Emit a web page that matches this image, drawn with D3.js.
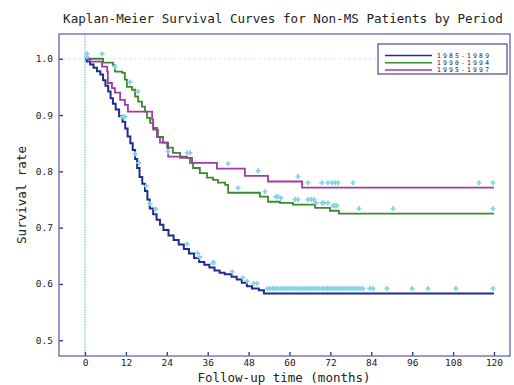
<!DOCTYPE html>
<html>
<head>
<meta charset="utf-8">
<script src="https://cdn.jsdelivr.net/npm/d3@7"></script>
<style>
  body { margin: 0; background: #fff; }
  svg text { font-family: "DejaVu Sans Mono", "Liberation Mono", monospace; fill: #222; }
</style>
</head>
<body>
<svg id="chart" width="514" height="385"></svg>
<script>
// 축 눈금
const monthTicks = [0, 12, 24, 36, 48, 60, 72, 84, 96, 108, 120];
const rateTicks = [0.5, 0.6, 0.7, 0.8, 0.9, 1.0];
const periods = ["1985-1989", "1990-1994", "1995-1997"];
const colors = ["#1f2e8c", "#3b8a2e", "#a23aa6"];

// 생존 곡선 단계 [시간, 생존율]
const steps8589 = [
  [0, 1.0], [0.5, 0.995], [1.5, 0.990], [2.5, 0.984], [3.5, 0.978], [4.5, 0.972],
  [5.3, 0.962], [6.0, 0.952], [6.8, 0.942], [7.5, 0.930], [8.2, 0.920], [9.0, 0.910],
  [10.0, 0.898], [11.0, 0.888], [11.8, 0.876], [12.5, 0.862], [13.3, 0.850], [14.0, 0.838],
  [14.7, 0.822], [15.3, 0.806], [16.0, 0.790], [16.8, 0.778], [17.6, 0.765], [18.3, 0.750],
  [19.0, 0.734], [20.0, 0.724], [21.0, 0.714], [22.0, 0.705], [23.0, 0.696], [24.5, 0.686],
  [26.0, 0.678], [27.5, 0.670], [29.0, 0.662], [30.5, 0.654], [32.0, 0.646], [33.5, 0.639],
  [35.0, 0.634], [36.5, 0.629], [38.0, 0.624], [39.5, 0.620], [41.0, 0.617], [43.0, 0.613],
  [44.5, 0.608], [46.0, 0.602], [47.5, 0.596], [49.0, 0.592], [51.0, 0.589], [52.5, 0.583],
  [120, 0.583]
];
const steps9094 = [
  [0, 1.0], [5.3, 0.993], [8.2, 0.989], [8.8, 0.977], [10.9, 0.975], [11.7, 0.963],
  [12.3, 0.950], [13.8, 0.945], [14.7, 0.933], [15.6, 0.924], [16.7, 0.915], [17.6, 0.906],
  [18.2, 0.895], [19.1, 0.886], [20.0, 0.874], [21.4, 0.861], [22.9, 0.851], [24.4, 0.842],
  [25.8, 0.833], [27.9, 0.824], [30.8, 0.815], [31.7, 0.806], [33.7, 0.797], [35.8, 0.789],
  [37.6, 0.785], [39.0, 0.780], [41.1, 0.776], [42.0, 0.762], [51.3, 0.755], [53.7, 0.746],
  [57.2, 0.744], [61.0, 0.741], [67.5, 0.735], [71.9, 0.730], [74.5, 0.725], [120, 0.725]
];
const steps9597 = [
  [0, 1.0], [1.5, 0.995], [5.0, 0.986], [6.5, 0.977], [6.7, 0.957], [7.9, 0.948],
  [8.8, 0.940], [10.3, 0.927], [11.7, 0.918], [12.6, 0.906], [19.7, 0.892], [20.0, 0.877],
  [21.1, 0.861], [22.0, 0.851], [24.1, 0.842], [24.4, 0.826], [29.9, 0.824], [31.4, 0.815],
  [38.7, 0.805], [46.9, 0.792], [53.7, 0.782], [63.7, 0.771], [120, 0.771]
];

// 중도절단 시점 (개월)
const censor8589 = [
  0.5, 11.0, 11.7, 14.7, 15.8, 17.9, 19.1, 20.8, 30.0, 33.0, 33.6, 37.5, 37.8, 43.2, 46.3,
  47.5, 49.5, 50.5, 53.5, 54.3, 55.1, 55.9, 56.7, 57.5, 58.3, 59.1, 59.9, 60.7, 61.5, 62.3,
  63.1, 63.9, 64.7, 65.5, 66.3, 67.1, 67.9, 68.7, 69.5, 70.3, 71.1, 71.9, 72.7, 73.5, 74.3,
  75.1, 75.9, 76.7, 77.5, 78.3, 79.1, 79.9, 80.7, 81.5, 83.6, 84.5, 88.6, 96.0, 100.6,
  108.8, 119.7
];
const censor9094 = [
  0.6, 5.0, 8.8, 13.2, 15.5, 44.9, 52.8, 56.0, 56.6, 57.5, 61.6, 62.5, 65.4, 66.3, 67.2,
  67.8, 69.5, 70.1, 71.3, 72.8, 73.4, 73.9, 80.4, 90.4, 119.7
];
const censor9597 = [
  24.4, 30.0, 30.8, 42.0, 50.8, 62.5, 65.4, 69.5, 71.3, 72.5, 73.4, 74.2, 78.6, 115.6, 119.7
];

const svg = d3.select("#chart");
const plotLeft = 59, plotRight = 510, plotTop = 34, plotBottom = 356;

const x = d3.scaleLinear().domain([-7.63, 124.7]).range([plotLeft, plotRight]);
const y = d3.scaleLinear().domain([0.472, 1.044]).range([plotBottom, plotTop]);

// 제목
svg.append("text")
  .attr("x", 283).attr("y", 23)
  .attr("text-anchor", "middle")
  .style("font-size", "12.6px")
  .text("Kaplan-Meier Survival Curves for Non-MS Patients by Period");

// 기준선 (t=0, 1.0)
svg.append("line")
  .attr("x1", x(0)).attr("x2", x(0)).attr("y1", plotTop).attr("y2", plotBottom)
  .attr("stroke", "#6cc9d6").attr("stroke-width", 1.2).attr("stroke-dasharray", "1.5,1");
svg.append("line")
  .attr("x1", plotLeft).attr("x2", plotRight).attr("y1", y(1)).attr("y2", y(1))
  .attr("stroke", "#bfe8ef").attr("stroke-width", 1).attr("stroke-dasharray", "2,3");

// 축
const xAxis = svg.append("g")
  .attr("transform", `translate(0,${plotBottom})`)
  .call(d3.axisBottom(x).tickValues(monthTicks).tickSize(-4).tickPadding(3));
const yAxis = svg.append("g")
  .attr("transform", `translate(${plotLeft},0)`)
  .call(d3.axisLeft(y).tickValues(rateTicks).tickFormat(d3.format(".1f")).tickSize(-4).tickPadding(6));
[xAxis, yAxis].forEach(g => {
  g.select(".domain").remove();
  g.selectAll(".tick line").attr("stroke", "#2a2f8a").attr("stroke-width", 1.3);
  g.selectAll(".tick text").style("font-size", "9.5px").attr("fill", "#333");
});

// 곡선
const line = d3.line()
  .x(d => x(d[0]))
  .y(d => y(d[1]))
  .curve(d3.curveStepAfter);

const series = [
  { steps: steps8589, censor: censor8589 },
  { steps: steps9094, censor: censor9094 },
  { steps: steps9597, censor: censor9597 }
];

function survAt(steps, t) {
  let v = steps[0][1];
  steps.forEach(s => { if (s[0] <= t) v = s[1]; });
  return v;
}

series.forEach((s, i) => {
  svg.append("path")
    .datum(s.steps)
    .attr("d", line)
    .attr("fill", "none")
    .attr("stroke", colors[i])
    .attr("stroke-width", i === 0 ? 2 : 1.8);
});

// 중도절단 표시
series.forEach(s => {
  svg.append("g")
    .selectAll("path")
    .data(s.censor)
    .enter().append("path")
    .attr("transform", t => `translate(${x(t)},${y(survAt(s.steps, t)) - 5})`)
    .attr("d", "M-2.5,0H2.5M0,-2.5V2.5")
    .attr("stroke", "#86d3e6")
    .attr("stroke-width", 1.8)
    .attr("fill", "none");
});

// 테두리
svg.append("rect")
  .attr("x", plotLeft).attr("y", plotTop)
  .attr("width", plotRight - plotLeft).attr("height", plotBottom - plotTop)
  .attr("fill", "none").attr("stroke", "#6a62b0").attr("stroke-width", 1.3);

// 축 제목
svg.append("text")
  .attr("transform", `translate(26,${(plotTop + plotBottom) / 2}) rotate(-90)`)
  .attr("text-anchor", "middle")
  .style("font-size", "12.5px")
  .text("Survival rate");
svg.append("text")
  .attr("x", 284).attr("y", 382)
  .attr("text-anchor", "middle")
  .style("font-size", "12.5px")
  .text("Follow-up time (months)");

// 범례
const legend = svg.append("g");
legend.append("rect")
  .attr("x", 378).attr("y", 44).attr("width", 129).attr("height", 30)
  .attr("fill", "#fff").attr("stroke", "#4a4595").attr("stroke-width", 1.2);
periods.forEach((p, i) => {
  const ly = 55.5 + i * 7.2;
  legend.append("line")
    .attr("x1", 385).attr("x2", 432).attr("y1", ly).attr("y2", ly)
    .attr("stroke", colors[i]).attr("stroke-width", 1.5);
  legend.append("text")
    .attr("x", 437).attr("y", ly + 2.4)
    .attr("textLength", 52)
    .attr("lengthAdjust", "spacing")
    .style("font-size", "6.4px")
    .text(p);
});
</script>
</body>
</html>
